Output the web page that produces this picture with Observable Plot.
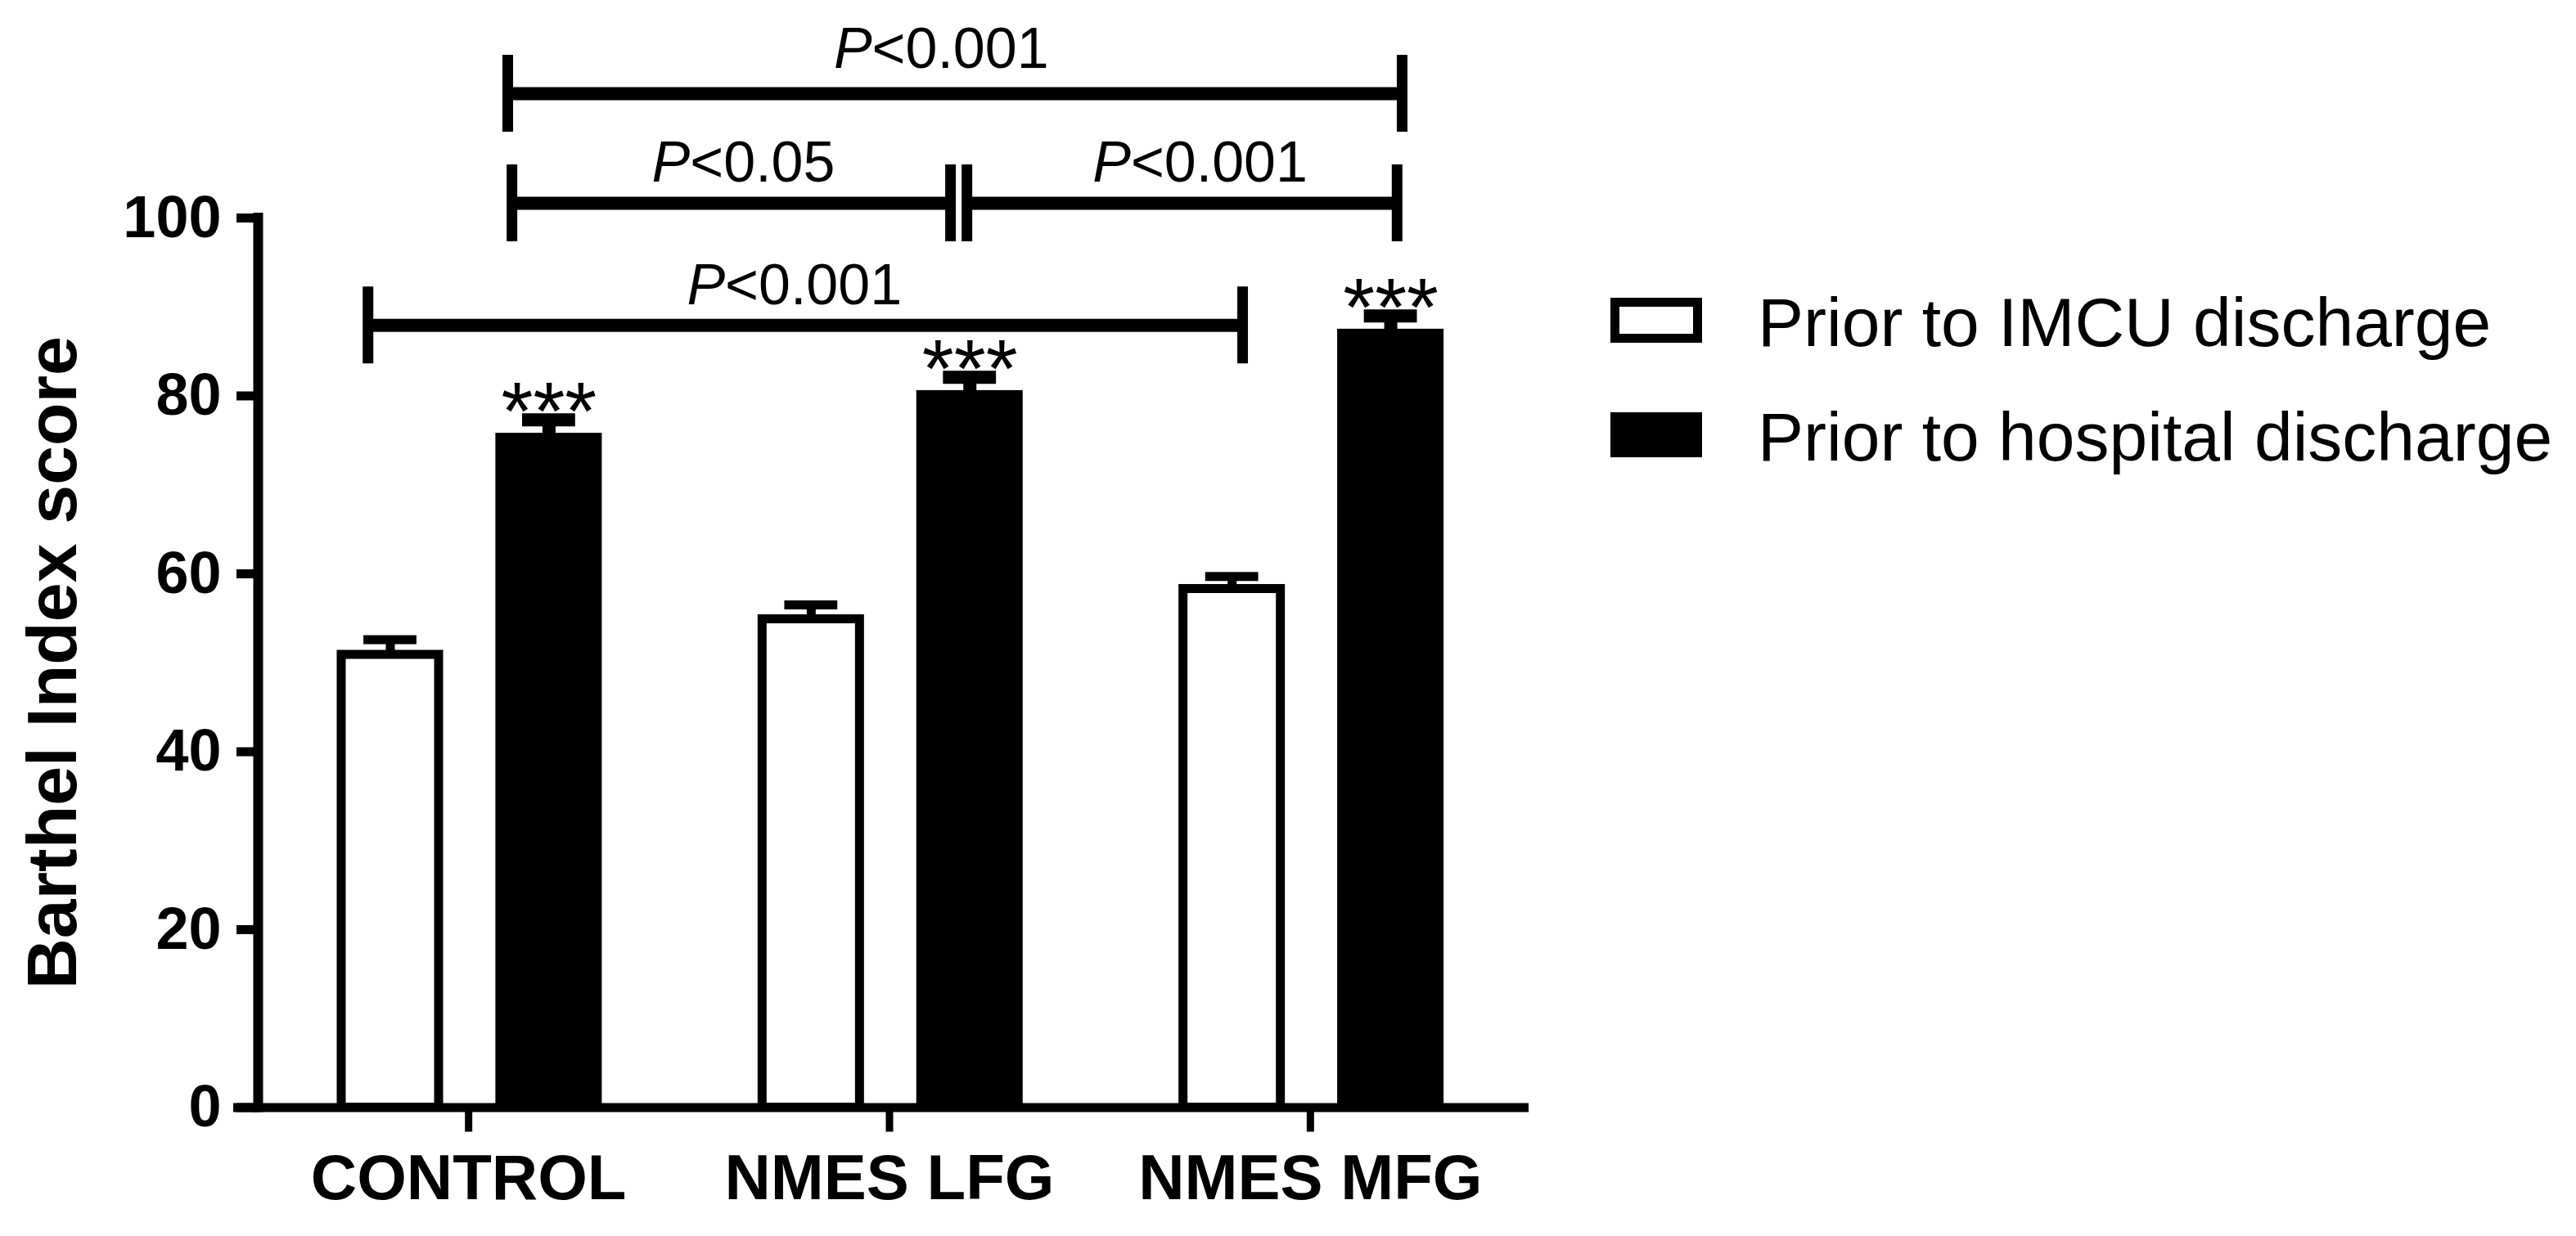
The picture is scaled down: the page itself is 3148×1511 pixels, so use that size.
<!DOCTYPE html>
<html>
<head>
<meta charset="utf-8">
<script src="https://cdn.jsdelivr.net/npm/d3@7"></script>
<script src="https://cdn.jsdelivr.net/npm/@observablehq/plot@0.6"></script>
<style>
  html, body { margin: 0; padding: 0; background: #fff; }
  #wrap { position: relative; width: 3148px; height: 1511px; background: #fff; overflow: hidden;
          font-family: "Liberation Sans", Arial, sans-serif; color: #000; }
  #chart { position: absolute; left: 0; top: 0; }
  .lg-box { position: absolute; left: 1968px; width: 112px; height: 55px; box-sizing: border-box; border: 11px solid #000; }
  .lg-text { position: absolute; left: 2148px; font-size: 84px; line-height: 84px; white-space: nowrap; }
</style>
</head>
<body>
<div id="wrap">
  <div id="chart"></div>
</div>
<script>
// ---- data ----
const categories = ["CONTROL", "NMES LFG", "NMES MFG"];
const seriesNames = ["Prior to IMCU discharge", "Prior to hospital discharge"];
const imcuMean = [50.9, 54.9, 58.3];
const imcuSE   = [1.7, 1.6, 1.4];
const hospMean = [75.3, 80.1, 87.0];
const hospSE   = [2.0, 2.0, 2.0];
const yTicks = [0, 20, 40, 60, 80, 100];
const yLabel = "Barthel Index score";

// significance brackets (x in group units, level in score units)
const bracketFrom   = [0.093, 0.103, 1.184, -0.239];
const bracketTo     = [2.218, 1.145, 2.206, 1.839];
const bracketLevel  = [113.97, 101.66, 101.66, 87.94];
const bracketLabels = ["P<0.001", "P<0.05", "P<0.001", "P<0.001"];
const labelX        = [1.123, 0.653, 1.738, 0.774];
const labelLevel    = [116.9, 104.05, 104.05, 90.34];
const starsText = "***";

// ---- layout constants (styles, not data) ----
const imcuOffset = -0.186, hospOffset = 0.191, barHalf = 0.1157, capHalf = 0.063;
const endHalf = 4.32;

const imcu = categories.map((c, i) => ({g: i, x: i + imcuOffset, v: imcuMean[i], se: imcuSE[i]}));
const hosp = categories.map((c, i) => ({g: i, x: i + hospOffset, v: hospMean[i], se: hospSE[i]}));
const brackets = bracketFrom.map((d, i) => ({x1: d, x2: bracketTo[i], y: bracketLevel[i], label: bracketLabels[i], lx: labelX[i], ly: labelLevel[i]}));
const ends = brackets.flatMap(b => [{x: b.x1, y: b.y}, {x: b.x2, y: b.y}]);

const chart = Plot.plot({
  width: 1900,
  height: 1511,
  marginLeft: 285,
  marginRight: 32,
  marginTop: 266,
  marginBottom: 157.5,
  style: {fontFamily: "'Liberation Sans', Arial, sans-serif", background: "white", color: "black", overflow: "visible"},
  x: {domain: [-0.5583, 2.5194]},
  y: {domain: [0, 100]},
  marks: [
    // bars
    Plot.rectY(imcu, {x1: d => d.x - barHalf, x2: d => d.x + barHalf, y1: 0, y2: "v", fill: "white", stroke: "black", strokeWidth: 11}),
    Plot.rectY(hosp, {x1: d => d.x - barHalf, x2: d => d.x + barHalf, y1: 0, y2: "v", fill: "black", stroke: "black", strokeWidth: 11}),
    // error bars
    Plot.ruleX(imcu, {x: "x", y1: "v", y2: d => d.v + d.se, stroke: "black", strokeWidth: 11}),
    Plot.ruleY(imcu, {y: d => d.v + d.se, x1: d => d.x - capHalf, x2: d => d.x + capHalf, stroke: "black", strokeWidth: 11}),
    Plot.ruleX(hosp, {x: "x", y1: "v", y2: d => d.v + d.se, stroke: "black", strokeWidth: 16}),
    Plot.ruleY(hosp, {y: d => d.v + d.se, x1: d => d.x - capHalf, x2: d => d.x + capHalf, stroke: "black", strokeWidth: 16}),
    // asterisks
    Plot.text(hosp, {x: "x", y: d => d.v + d.se, text: () => starsText, fontSize: 100, lineAnchor: "bottom", dy: 24, fill: "black"}),
    // axes
    Plot.axisY({ticks: yTicks, tickSize: 26, tickPadding: 19, dx: 30, fontSize: 72, fontWeight: "bold", strokeWidth: 11, label: null}),
    Plot.axisX({ticks: [0, 1, 2], tickFormat: i => categories[i], tickSize: 30, tickPadding: 26.5, fontSize: 78, fontWeight: "bold", strokeWidth: 9, label: null}),
    Plot.ruleY([0], {stroke: "black", strokeWidth: 11}),
    Plot.ruleX([-0.5], {y1: 0, y2: 100, stroke: "black", strokeWidth: 12, strokeLinecap: "square"}),
    Plot.text([yLabel], {frameAnchor: "left", rotate: -90, dx: -220, fontSize: 86, fontWeight: "bold", lineAnchor: "middle", textAnchor: "middle", fill: "black"}),
    // significance brackets
    Plot.ruleY(brackets, {y: "y", x1: "x1", x2: "x2", stroke: "black", strokeWidth: 16}),
    Plot.ruleX(ends, {x: "x", y1: d => d.y - endHalf, y2: d => d.y + endHalf, stroke: "black", strokeWidth: 13}),
    Plot.text(brackets, {x: "lx", y: "ly", text: "label", fontSize: 70, lineAnchor: "bottom", textAnchor: "middle", fill: "black"})
  ]
});

// italic "P" in the p-value labels
chart.querySelectorAll("text").forEach(t => {
  const s = t.textContent;
  if (s.startsWith("P<") && t.children.length === 0) {
    t.textContent = "";
    const ns = "http://www.w3.org/2000/svg";
    const a = document.createElementNS(ns, "tspan");
    a.setAttribute("font-style", "italic");
    a.textContent = "P";
    const b = document.createElementNS(ns, "tspan");
    b.textContent = s.slice(1);
    t.appendChild(a); t.appendChild(b);
  }
});
document.getElementById("chart").appendChild(chart);

// legend (HTML, to the right of the chart)
const wrap = document.getElementById("wrap");
const legendTops = [364, 504];
const legendTextTops = [352, 492];
seriesNames.forEach((name, i) => {
  const box = document.createElement("div");
  box.className = "lg-box";
  box.style.top = legendTops[i] + "px";
  box.style.background = i === 0 ? "#fff" : "#000";
  wrap.appendChild(box);
  const tx = document.createElement("div");
  tx.className = "lg-text";
  tx.style.top = legendTextTops[i] + "px";
  tx.textContent = name;
  wrap.appendChild(tx);
});
</script>
</body>
</html>
